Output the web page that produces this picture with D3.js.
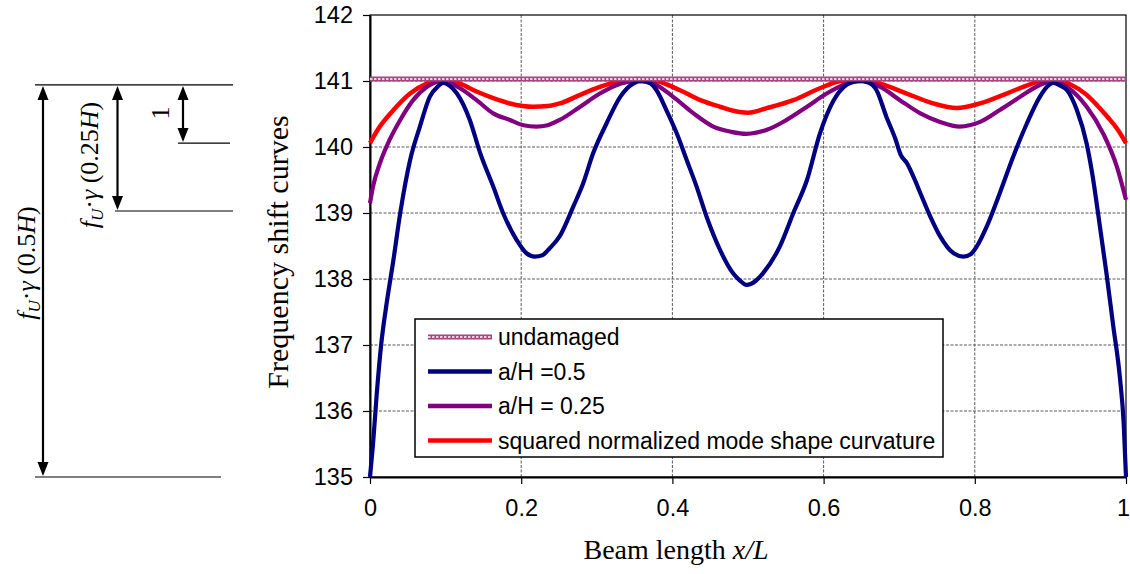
<!DOCTYPE html>
<html><head><meta charset="utf-8">
<script src="https://cdn.jsdelivr.net/npm/d3@7"></script>
<style>
html,body{margin:0;padding:0;background:#fff;}
svg{display:block;}
</style></head>
<body>
<svg id="chart" width="1130" height="574"></svg>
<script>
// ---------- data ----------
const xTicks = [0, 0.2, 0.4, 0.6, 0.8, 1];
const xTickLabels = ["0", "0.2", "0.4", "0.6", "0.8", "1"];
const yTicks = [135, 136, 137, 138, 139, 140, 141, 142];

const seriesNames = ["undamaged", "a/H =0.5", "a/H = 0.25", "squared normalized mode shape curvature"];

const undamaged = [[0, 141.03], [1, 141.03]];

const damage05 = [[0,135],[0.004,135.5],[0.009,136.27],[0.015,137.03],[0.022,137.63],[0.031,138.29],[0.04,139.0],[0.053,139.8],[0.066,140.31],[0.079,140.76],[0.09,140.92],[0.097,140.97],[0.105,140.93],[0.115,140.81],[0.132,140.41],[0.146,139.9],[0.163,139.4],[0.176,139.0],[0.194,138.59],[0.207,138.39],[0.218,138.34],[0.228,138.36],[0.238,138.47],[0.251,138.65],[0.269,139.1],[0.282,139.45],[0.295,139.9],[0.313,140.36],[0.331,140.76],[0.348,140.96],[0.36,141.0],[0.37,140.97],[0.379,140.86],[0.392,140.56],[0.406,140.2],[0.419,139.8],[0.432,139.4],[0.445,138.95],[0.463,138.44],[0.48,138.09],[0.489,137.98],[0.498,137.91],[0.51,137.97],[0.52,138.09],[0.542,138.49],[0.56,139.0],[0.578,139.5],[0.595,140.2],[0.613,140.7],[0.63,140.94],[0.645,141.0],[0.658,140.98],[0.67,140.86],[0.683,140.46],[0.695,140.12],[0.702,139.88],[0.71,139.76],[0.72,139.52],[0.728,139.3],[0.741,138.95],[0.754,138.65],[0.772,138.39],[0.785,138.34],[0.795,138.38],[0.803,138.5],[0.816,138.8],[0.833,139.3],[0.851,139.86],[0.869,140.36],[0.886,140.76],[0.897,140.93],[0.904,140.97],[0.913,140.93],[0.922,140.86],[0.935,140.56],[0.948,140.05],[0.956,139.55],[0.963,139.0],[0.974,138.1],[0.983,137.3],[0.992,136.5],[0.997,135.8],[1.0,135.0]];

const damage025 = [[0,139.15],[0.004,139.4],[0.013,139.75],[0.026,140.11],[0.04,140.41],[0.057,140.71],[0.075,140.91],[0.097,141.0],[0.119,140.89],[0.141,140.71],[0.163,140.51],[0.185,140.41],[0.203,140.33],[0.22,140.31],[0.235,140.33],[0.251,140.41],[0.278,140.61],[0.304,140.81],[0.331,140.96],[0.353,141.0],[0.375,140.96],[0.401,140.76],[0.428,140.51],[0.454,140.31],[0.478,140.23],[0.498,140.2],[0.525,140.26],[0.551,140.41],[0.578,140.61],[0.604,140.81],[0.63,140.96],[0.653,141.0],[0.675,140.91],[0.701,140.71],[0.728,140.51],[0.754,140.38],[0.78,140.31],[0.807,140.38],[0.833,140.56],[0.86,140.76],[0.886,140.94],[0.904,141.0],[0.922,140.91],[0.948,140.61],[0.97,140.2],[0.988,139.7],[1.0,139.2]];

const curvature = [[0,140.06],[0.013,140.31],[0.031,140.56],[0.053,140.81],[0.075,140.96],[0.097,141.02],[0.119,140.96],[0.141,140.84],[0.163,140.74],[0.185,140.66],[0.216,140.61],[0.235,140.62],[0.251,140.66],[0.278,140.79],[0.304,140.91],[0.331,141.0],[0.353,141.03],[0.379,141.0],[0.41,140.86],[0.437,140.71],[0.463,140.61],[0.489,140.53],[0.5,140.52],[0.525,140.59],[0.56,140.71],[0.595,140.89],[0.622,141.0],[0.648,141.03],[0.675,140.96],[0.71,140.81],[0.745,140.66],[0.776,140.59],[0.807,140.66],[0.842,140.81],[0.873,140.95],[0.899,141.03],[0.926,140.95],[0.948,140.79],[0.962,140.63],[0.976,140.45],[0.988,140.28],[1.0,140.06]];

// annotation levels (frequency values of the reference lines at the left)
const annTop = 140.94, annOne = 140.06, annQuarter = 139.03, annHalf = 135.0;

// ---------- layout ----------
const svg = d3.select("#chart");
const L = 370, R = 1126, T = 15, B = 477;
const x = d3.scaleLinear().domain([0, 1]).range([L, R]);
const y = d3.scaleLinear().domain([135, 142]).range([B, T]);
const sans = "'Liberation Sans', Arial, sans-serif";
const serif = "'Liberation Serif', 'Times New Roman', serif";

// grid
const grid = svg.append("g");
grid.selectAll("line.h").data(yTicks.filter(v => v > 135 && v < 142)).join("line")
  .attr("x1", L).attr("x2", R).attr("y1", d => y(d)).attr("y2", d => y(d))
  .attr("stroke", "#5a5a5a").attr("stroke-width", 1).attr("stroke-dasharray", "3,1.5");
grid.selectAll("line.v").data(xTicks.filter(v => v > 0 && v < 1)).join("line")
  .attr("y1", T).attr("y2", B).attr("x1", d => x(d)).attr("x2", d => x(d))
  .attr("stroke", "#5a5a5a").attr("stroke-width", 1).attr("stroke-dasharray", "3,1.5");

// frame (top/right)
svg.append("rect").attr("x", L).attr("y", T).attr("width", R - L).attr("height", B - T)
  .attr("fill", "none").attr("stroke", "#000").attr("stroke-width", 1.2);

// axes
const yAxis = svg.append("g").attr("transform", `translate(${L},0)`)
  .call(d3.axisLeft(y).tickValues(yTicks).tickSize(7).tickSizeOuter(0).tickFormat(d3.format("d")));
const xAxis = svg.append("g").attr("transform", `translate(0,${B})`)
  .call(d3.axisBottom(x).tickValues(xTicks).tickSize(7).tickSizeOuter(0).tickFormat((d, i) => xTickLabels[i]));
[yAxis, xAxis].forEach(a => {
  a.select(".domain").attr("stroke", "#000").attr("stroke-width", 2);
  a.selectAll(".tick line").attr("stroke", "#000").attr("stroke-width", 1.2);
  a.selectAll(".tick text").attr("font-family", sans).attr("font-size", 23.5).attr("fill", "#000");
});
yAxis.selectAll(".tick text").attr("x", -17);
xAxis.selectAll(".tick text").attr("y", 22).attr("dx", (d, i) => i === xTicks.length - 1 ? -3 : 0);

// lines
const line = d3.line().x(d => x(d[0])).y(d => y(d[1])).curve(d3.curveMonotoneX);
const plot = svg.append("g");
function undamagedStyle(sel, path) {
  sel.append("path").attr("d", path).attr("fill", "none").attr("stroke", "#a8457f").attr("stroke-width", 5);
  sel.append("path").attr("d", path).attr("fill", "none").attr("stroke", "#fff").attr("stroke-width", 1.6).attr("stroke-dasharray", "2.5,1.5");
}
plot.append("path").datum(curvature).attr("d", line).attr("fill", "none").attr("stroke", "#ff0000").attr("stroke-width", 4.5);
plot.append("path").datum(damage025).attr("d", line).attr("fill", "none").attr("stroke", "#800080").attr("stroke-width", 4.2);
plot.append("path").datum(damage05).attr("d", line).attr("fill", "none").attr("stroke", "#000080").attr("stroke-width", 4.2);
undamagedStyle(plot, line(undamaged));

// legend
const lg = svg.append("g");
lg.append("rect").attr("x", 415).attr("y", 319).attr("width", 528).attr("height", 138)
  .attr("fill", "#fff").attr("stroke", "#000").attr("stroke-width", 1.5);
const legendColors = [null, "#000080", "#800080", "#ff0000"];
seriesNames.forEach((name, i) => {
  const ly = 337 + i * 34.5;
  if (i === 0) {
    undamagedStyle(lg, `M428,${ly}H492`);
  } else {
    lg.append("line").attr("x1", 428).attr("x2", 492).attr("y1", ly).attr("y2", ly)
      .attr("stroke", legendColors[i]).attr("stroke-width", 4.5);
  }
  lg.append("text").attr("x", 498).attr("y", ly).attr("dy", "0.36em")
    .attr("font-family", sans).attr("font-size", 23).text(name);
});

// axis titles
svg.append("text").attr("transform", "translate(288,252) rotate(-90)")
  .attr("text-anchor", "middle").attr("font-family", serif).attr("font-size", 30).text("Frequency shift curves");
const xt = svg.append("text").attr("x", 676).attr("y", 559).attr("text-anchor", "middle")
  .attr("font-family", serif).attr("font-size", 28);
xt.append("tspan").text("Beam length ");
xt.append("tspan").attr("font-style", "italic").text("x/L");

// left annotation
const ann = svg.append("g").attr("stroke", "#000");
ann.append("line").attr("x1", 35).attr("x2", 233).attr("y1", y(annTop)).attr("y2", y(annTop)).attr("stroke-width", 1.2);
ann.append("line").attr("x1", 178).attr("x2", 230).attr("y1", y(annOne)).attr("y2", y(annOne)).attr("stroke-width", 1.2);
ann.append("line").attr("x1", 115).attr("x2", 233).attr("y1", y(annQuarter)).attr("y2", y(annQuarter)).attr("stroke-width", 1.2);
ann.append("line").attr("x1", 35).attr("x2", 221).attr("y1", y(annHalf)).attr("y2", y(annHalf)).attr("stroke-width", 1.2);
function dblArrow(ax, v1, v2) {
  const y1 = y(v1) + 1, y2 = y(v2) - 1, hl = 14, hw = 5.5;
  ann.append("line").attr("x1", ax).attr("x2", ax).attr("y1", y1 + hl - 2).attr("y2", y2 - hl + 2).attr("stroke-width", 2.2);
  ann.append("path").attr("d", `M${ax},${y1}L${ax - hw},${y1 + hl}L${ax + hw},${y1 + hl}Z`).attr("fill", "#000").attr("stroke", "none");
  ann.append("path").attr("d", `M${ax},${y2}L${ax - hw},${y2 - hl}L${ax + hw},${y2 - hl}Z`).attr("fill", "#000").attr("stroke", "none");
}
dblArrow(43, annTop, annHalf);
dblArrow(117.5, annTop, annQuarter);
dblArrow(183, annTop, annOne);

function fLabel(cx, cy, text) {
  const t = svg.append("text").attr("transform", `translate(${cx},${cy}) rotate(-90)`)
    .attr("text-anchor", "middle").attr("font-family", serif).attr("font-size", 26);
  t.append("tspan").attr("font-style", "italic").text("f");
  t.append("tspan").attr("font-style", "italic").attr("font-size", 17).attr("dy", 5).text("U");
  t.append("tspan").attr("dy", -5).text("·");
  t.append("tspan").attr("font-style", "italic").text("γ");
  t.append("tspan").text(" (" + text);
  t.append("tspan").attr("font-style", "italic").text("H");
  t.append("tspan").text(")");
}
fLabel(35, 263, "0.5");
fLabel(98, 165, "0.25");
svg.append("text").attr("transform", "translate(169,113) rotate(-90)").attr("text-anchor", "middle")
  .attr("font-family", serif).attr("font-size", 26).text("1");
</script>
</body></html>
